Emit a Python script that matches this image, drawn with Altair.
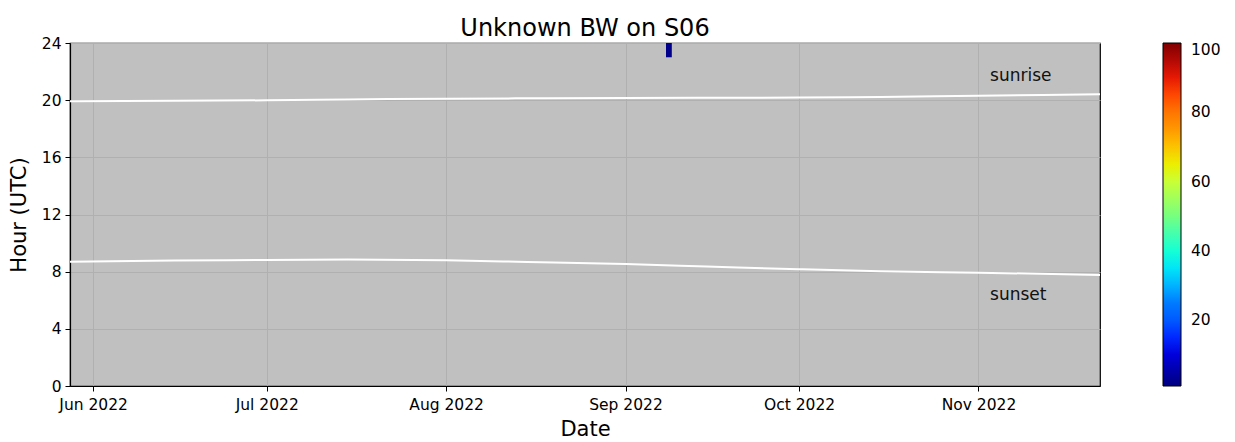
import altair as alt
import pandas as pd

# ---- data ----
month_ticks = ["2022-06-01", "2022-07-01", "2022-08-01", "2022-09-01", "2022-10-01", "2022-11-01"]
hour_ticks = [0, 4, 8, 12, 16, 20, 24]
x_domain = ["2022-05-28", "2022-11-22"]

line_dates = ["2022-05-28", "2022-06-15", "2022-07-01", "2022-07-15", "2022-08-01", "2022-08-15",
              "2022-09-01", "2022-09-15", "2022-10-01", "2022-10-15", "2022-11-01", "2022-11-22"]
sunrise_hours = [19.92, 19.96, 19.99, 20.05, 20.10, 20.13, 20.15, 20.17, 20.18, 20.22, 20.31, 20.42]
sunset_hours = [8.70, 8.78, 8.82, 8.85, 8.80, 8.68, 8.53, 8.36, 8.17, 8.03, 7.93, 7.77]

det_start = ["2022-09-08"]
det_end = ["2022-09-09"]
det_hour = [23]
det_hour_end = [24]
det_value = [2]

label_text = ["sunrise", "sunset"]
label_date = ["2022-11-03", "2022-11-03"]
label_hour = [21.7, 6.4]

color_min, color_max = 1, 100
jet_colors = ["#000080", "#0000ff", "#0080ff", "#15ffe2", "#7bff7b",
              "#e2ff15", "#ff9700", "#ff2100", "#800000"]
color_domain = [color_min + (color_max - color_min) * i / 8 for i in range(9)]

# ---- tables ----
det_df = pd.DataFrame({"start": pd.to_datetime(det_start), "end": pd.to_datetime(det_end),
                       "hour": det_hour, "hour_end": det_hour_end, "value": det_value})
lines_df = pd.concat([
    pd.DataFrame({"date": pd.to_datetime(line_dates), "hour": sunrise_hours, "series": "sunrise"}),
    pd.DataFrame({"date": pd.to_datetime(line_dates), "hour": sunset_hours, "series": "sunset"}),
])
labels_df = pd.DataFrame({"date": pd.to_datetime(label_date), "hour": label_hour, "text": label_text})

FONT = "DejaVu Sans"

x_scale = alt.Scale(domain=[pd.Timestamp(d).isoformat() for d in x_domain], nice=False)
y_scale = alt.Scale(domain=[0, 24], nice=False, zero=False)

x_axis = alt.Axis(values=[pd.Timestamp(d).isoformat() for d in month_ticks], format="%b %Y",
                  title="Date", labelFontSize=15.5, titleFontSize=21, grid=True,
                  tickSize=5, labelPadding=6, titlePadding=6, labelFlush=False)
y_axis = alt.Axis(values=hour_ticks, title="Hour (UTC)", labelFontSize=15.5, titleFontSize=21,
                  grid=True, tickSize=5, labelPadding=4, titlePadding=12)

heat = alt.Chart(det_df).mark_rect().encode(
    x=alt.X("start:T", scale=x_scale, axis=x_axis),
    x2="end:T",
    y=alt.Y("hour:Q", scale=y_scale, axis=y_axis),
    y2="hour_end:Q",
    color=alt.Color("value:Q",
                    scale=alt.Scale(domain=color_domain, range=jet_colors, clamp=True),
                    legend=alt.Legend(title=None, orient="none", legendX=1093, legendY=0,
                                      direction="vertical", gradientLength=343,
                                      gradientThickness=18, values=[20, 40, 60, 80, 100],
                                      labelFontSize=15.5, labelOffset=10, labelBaseline="middle",
                                      gradientStrokeColor="black", gradientStrokeWidth=1)),
)

lines = alt.Chart(lines_df).mark_line(color="white", strokeWidth=2, interpolate="monotone").encode(
    x=alt.X("date:T", scale=x_scale, axis=x_axis),
    y=alt.Y("hour:Q", scale=y_scale, axis=y_axis),
    detail="series:N",
)

labels = alt.Chart(labels_df).mark_text(align="left", baseline="middle", fontSize=17,
                                        font=FONT, color="#111111").encode(
    x=alt.X("date:T", scale=x_scale, axis=x_axis),
    y=alt.Y("hour:Q", scale=y_scale, axis=y_axis),
    text="text:N",
)

chart = alt.layer(heat, lines, labels).properties(
    width=1030, height=343,
    title=alt.TitleParams("Unknown BW on S06", fontSize=24, font=FONT, fontWeight="normal",
                          color="black", offset=0, dy=5),
    autosize=alt.AutoSizeParams(type="none"),
    padding={"left": 62, "top": 35, "right": 127, "bottom": 56},
).configure(font=FONT).configure_view(
    fill="#c0c0c0", stroke="black", strokeWidth=1.2
).configure_axis(
    domainColor="black", tickColor="black", labelColor="black", titleColor="black",
    gridColor="#b0b0b0", gridWidth=1, labelFont=FONT, titleFont=FONT,
    titleFontWeight="normal", domainWidth=1.2,
).configure_legend(labelFont=FONT, labelColor="black")

chart.save("out.html", embed_options={"renderer": "svg", "actions": False})
